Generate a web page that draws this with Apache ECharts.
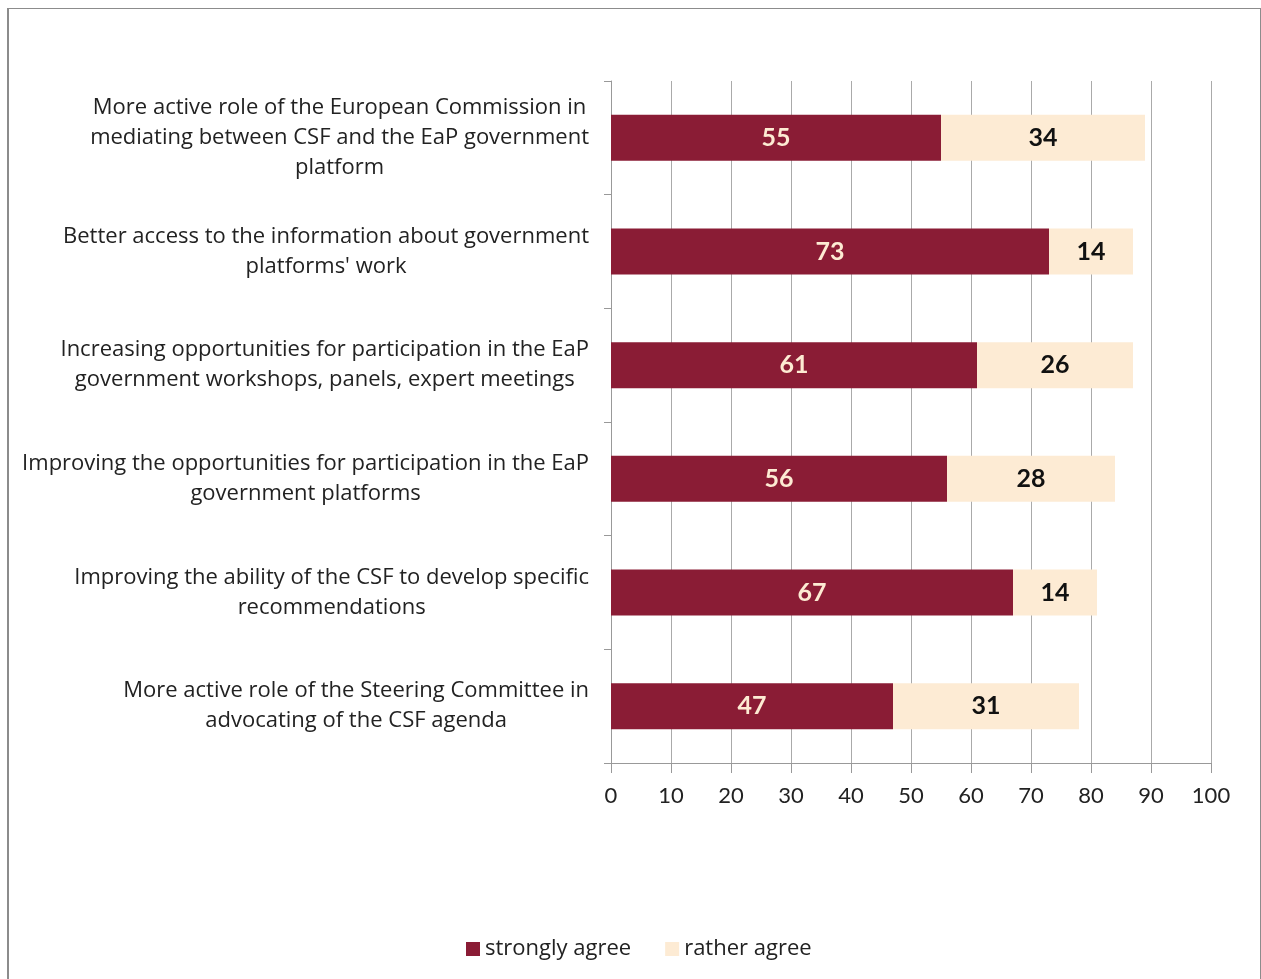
<!DOCTYPE html>
<html>
<head>
<meta charset="utf-8">
<script src="https://cdn.jsdelivr.net/npm/echarts@6/dist/echarts.min.js"></script>
<style>
html,body{margin:0;padding:0;background:#fff;}
#wrap{position:relative;width:1261px;height:979px;overflow:hidden;}
#frame{position:absolute;left:7px;top:8px;width:1251px;height:1000px;border:1px solid #8c8c8c;border-left:2px solid #8c8c8c;}
#chart{position:absolute;left:0;top:0;width:1261px;height:979px;}
</style>
</head>
<body>
<div id="wrap"><div id="frame"></div><div id="chart"></div></div>
<script>
const categories = [
  ["More active role of the European Commission in", "mediating between CSF and the EaP government", "platform"],
  ["Better access to the information about government", "platforms' work"],
  ["Increasing opportunities for participation in the EaP", "government workshops, panels, expert meetings"],
  ["Improving the opportunities for participation in the EaP", "government platforms"],
  ["Improving the ability of the CSF to develop specific", "recommendations"],
  ["More active role of the Steering Committee in", "advocating of the CSF agenda"]
];
const stronglyAgree = [55, 73, 61, 56, 67, 47];
const ratherAgree = [34, 14, 26, 28, 14, 31];
const seriesNames = ["strongly agree", "rather agree"];

const FONT = "Lato, 'Liberation Sans', sans-serif";
const LFONT = "'Open Sans', 'Liberation Sans', sans-serif";
const chart = echarts.init(document.getElementById('chart'));
chart.setOption({
  animation: false,
  textStyle: {fontFamily: FONT},
  grid: {left: 611, right: 50, top: 81, bottom: 216, containLabel: false},
  legend: {
    bottom: 14, left: 461,
    itemWidth: 14, itemHeight: 14, itemGap: 34,
    icon: 'rect',
    textStyle: {fontSize: 22, color: '#222', fontFamily: LFONT},
    data: seriesNames
  },
  xAxis: {
    type: 'value', min: 0, max: 100, interval: 10,
    axisLine: {show: true, lineStyle: {color: '#999', width: 1}},
    axisTick: {show: true, length: 10, lineStyle: {color: '#999'}},
    splitLine: {show: true, lineStyle: {color: '#aaa', width: 1}},
    axisLabel: {fontSize: 22, color: '#222', margin: 22, fontFamily: FONT}
  },
  yAxis: {
    type: 'category', inverse: true,
    data: categories.map(c => c.join('\n')),
    axisLine: {show: true, lineStyle: {color: '#999'}},
    axisTick: {show: true, length: 7, lineStyle: {color: '#999'}},
    axisLabel: {
      margin: 22, align: 'right', color: '#222', fontSize: 22, fontFamily: LFONT,
      formatter: v => v.split('\n').map(s => '{c|' + s + '}').join('\n'),
      rich: {c: {align: 'center', fontSize: 22, lineHeight: 30, color: '#222', fontFamily: LFONT}}
    }
  },
  series: [
    {
      name: seriesNames[0], type: 'bar', stack: 't', barWidth: 46,
      data: stronglyAgree,
      itemStyle: {color: '#8A1C35'},
      label: {show: true, position: 'inside', color: '#FDEBD3', fontSize: 25, fontWeight: 'bold', fontFamily: FONT}
    },
    {
      name: seriesNames[1], type: 'bar', stack: 't', barWidth: 46,
      data: ratherAgree,
      itemStyle: {color: '#FDEBD4'},
      label: {show: true, position: 'inside', color: '#111', fontSize: 25, fontWeight: 'bold', fontFamily: FONT}
    }
  ]
});
</script>
</body>
</html>
